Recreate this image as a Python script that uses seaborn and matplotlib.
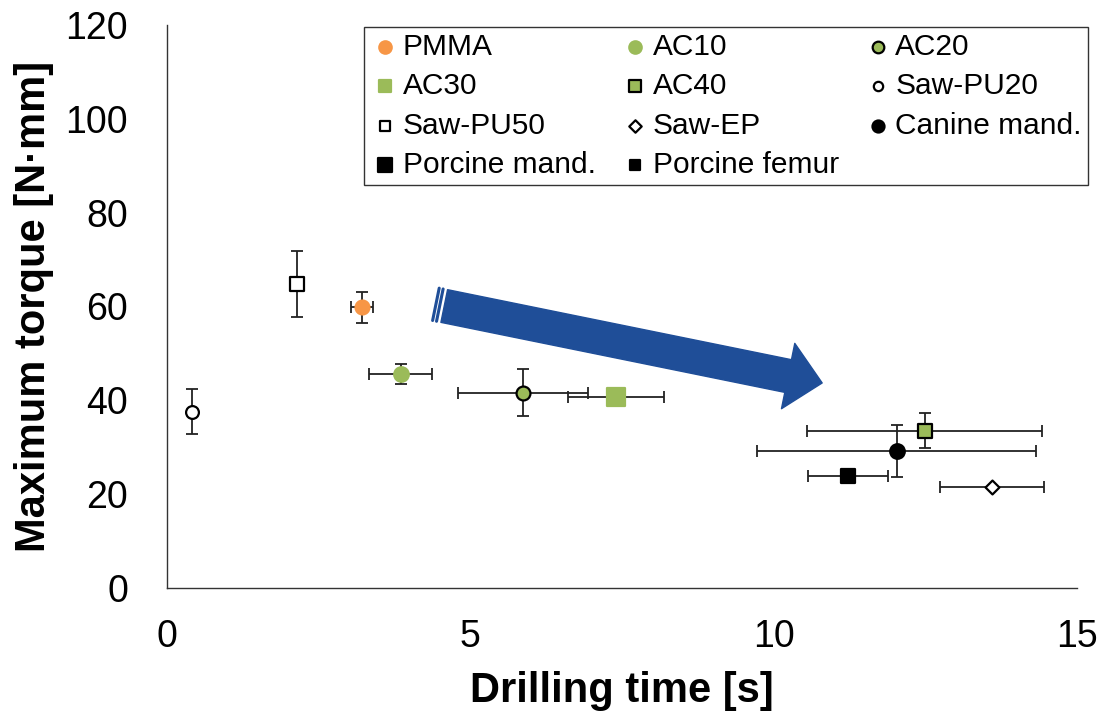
import matplotlib
matplotlib.use('Agg')
import matplotlib.pyplot as plt
import seaborn as sns
import pandas as pd
from matplotlib.lines import Line2D

# values
samples = ['PMMA', 'AC10', 'AC20', 'AC30', 'AC40', 'Saw-PU20', 'Saw-PU50',
           'Saw-EP', 'Canine mand.', 'Porcine mand.', 'Porcine femur']
time_mean = [3.21, 3.85, 5.87, 7.40, 12.49, 0.41, 2.15, 13.60, 12.03, 11.22, 11.22]
time_sd = [0.18, 0.52, 1.07, 0.79, 1.94, 0.0, 0.0, 0.85, 2.30, 0.66, 0.0]
torque_mean = [59.8, 45.6, 41.6, 40.7, 33.5, 37.6, 64.8, 21.5, 29.2, 23.9, 24.1]
torque_sd = [3.3, 2.1, 5.0, 0.0, 3.7, 4.8, 7.1, 0.0, 5.6, 1.2, 0.0]

orange = '#F79646'
green = '#9BBB59'
face = [orange, green, green, green, green, 'white', 'white', 'white', 'black', 'black', 'black']
edge = [orange, green, 'black', green, 'black', 'black', 'black', 'black', 'black', 'black', 'black']
marker = ['o', 'o', 'o', 's', 's', 'o', 's', 'D', 'o', 's', 's']
msize = [100, 110, 100, 150, 105, 85, 105, 50, 110, 115, 45]
leg_size = [80, 80, 70, 80, 70, 45, 60, 40, 75, 115, 45]

df = pd.DataFrame({'sample': samples, 'time': time_mean, 'time_sd': time_sd,
                   'torque': torque_mean, 'torque_sd': torque_sd})

sns.set_style('white')
plt.rcParams['font.family'] = ['Liberation Sans', 'DejaVu Sans']
plt.rcParams['text.color'] = 'black'
plt.rcParams['axes.labelcolor'] = 'black'

fig = plt.figure(figsize=(11.09, 7.22), dpi=100)
ax = fig.add_axes([0.1506, 0.1856, 0.8205, 0.7798])

for i, row in df.iterrows():
    xe = row['time_sd'] if row['time_sd'] > 0 else None
    ye = row['torque_sd'] if row['torque_sd'] > 0 else None
    if xe is not None or ye is not None:
        ax.errorbar(row['time'], row['torque'], xerr=xe, yerr=ye, fmt='none',
                    ecolor='#222222', elinewidth=1.3, capsize=4, capthick=1.3, zorder=2)

for i, row in df.iterrows():
    sns.scatterplot(x=[row['time']], y=[row['torque']], ax=ax, marker=marker[i],
                    s=msize[i], color=face[i], edgecolor=edge[i], linewidth=1.6,
                    label=row['sample'], zorder=3)

# blue trend arrow
ax.annotate('', xy=(10.80, 43.7), xytext=(4.57, 60.1),
            arrowprops=dict(arrowstyle='simple,head_length=1.25,head_width=2.4,tail_width=1.2',
                            mutation_scale=20, color='#1F4E98', shrinkA=0, shrinkB=0),
            zorder=1)

ax.set_xlim(0, 15)
ax.set_ylim(0, 120)
ax.set_xticks([0, 5, 10, 15])
ax.set_yticks(range(0, 121, 20))
ax.tick_params(axis='both', direction='in', length=10, width=1, colors='#333333',
               labelcolor='black', labelsize=27)
ax.tick_params(axis='y', pad=28)
ax.tick_params(axis='x', pad=22)
for s in ['top', 'right']:
    ax.spines[s].set_visible(False)
for s in ['left', 'bottom']:
    ax.spines[s].set_color('#333333')
    ax.spines[s].set_linewidth(1)

ax.set_xlabel('Drilling time [s]', fontsize=30, fontweight='bold', labelpad=12)
ax.set_ylabel('Maximum torque [N·mm]', fontsize=30, fontweight='bold', labelpad=8)

# stripes at the tail of the arrow (drawn in pixels)
fig.canvas.draw()
x0, y0 = ax.transData.transform((4.57, 60.1))
x1, y1 = ax.transData.transform((10.80, 43.7))
L = ((x1 - x0) ** 2 + (y1 - y0) ** 2) ** 0.5
ux, uy = (x1 - x0) / L, (y1 - y0) / L
px, py = -uy, ux
half = 16.5
for off in [-4.5, -8.5]:
    cx, cy = x0 + ux * off, y0 + uy * off
    fig.add_artist(Line2D([cx - px * half, cx + px * half], [cy - py * half, cy + py * half],
                          transform=None, color='#1F4E98', linewidth=2.2))

# legend is filled column by column, so reorder to read row by row
handles, labels = ax.get_legend_handles_labels()
order = [0, 3, 6, 9, 1, 4, 7, 10, 2, 5, 8]
leg = ax.legend([handles[k] for k in order], [labels[k] for k in order], ncol=3,
                loc='upper left', bbox_to_anchor=(0.2165, 0.9964),
                fontsize=21.5, frameon=True, fancybox=False, edgecolor='black',
                handletextpad=0.1, handlelength=1.0, labelspacing=0.38,
                borderpad=0.2, columnspacing=0.8, borderaxespad=0)
leg.get_frame().set_linewidth(1)
for k, h in zip(order, leg.legend_handles):
    h.set_sizes([leg_size[k]])

fig.savefig('out.png', dpi=100)
